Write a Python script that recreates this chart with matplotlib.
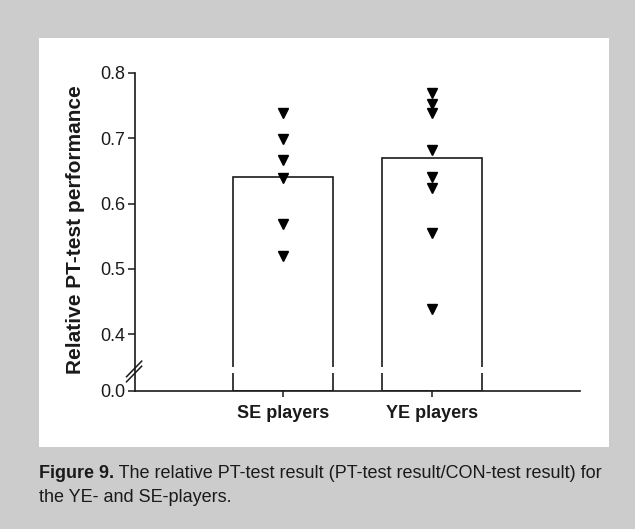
import numpy as np
import matplotlib
matplotlib.use("Agg")
import matplotlib.pyplot as plt
from matplotlib.patches import Rectangle
from matplotlib.lines import Line2D

plt.rcParams['font.family'] = ['Liberation Sans', 'DejaVu Sans']

# ---- data ----
categories = ["SE players", "YE players"]
bar_means = [0.64, 0.67]
se_values = [0.738, 0.698, 0.667, 0.639, 0.569, 0.520]
ye_values = [0.769, 0.752, 0.739, 0.682, 0.640, 0.624, 0.555, 0.439]
ytick_values = [0.0, 0.4, 0.5, 0.6, 0.7, 0.8]
caption_bold = "Figure 9."
caption_rest = " The relative PT-test result (PT-test result/CON-test result) for"
caption_line2 = "the YE- and SE-players."

# ---- styles ----
BG = "#cccccc"
INK = "#1a1a1a"
W, H, DPI = 635, 529, 100

fig = plt.figure(figsize=(W / DPI, H / DPI), dpi=DPI)
fig.patch.set_facecolor(BG)

# white panel
fig.add_artist(Rectangle((39 / W, 1 - 447 / H), 570 / W, 409 / H,
                         transform=fig.transFigure, facecolor="white",
                         edgecolor="none", zorder=0))

ax = fig.add_axes([135 / W, 1 - 390.7 / H, 445 / W, 318 / H])
ax.set_facecolor("none")

# broken y scale: values below 0.4 compressed
BRK = 0.4
Y0 = 0.3138


def fwd(v):
    v = np.asarray(v, dtype=float)
    return np.where(v >= BRK, v, Y0 + v * (BRK - Y0) / BRK)


def inv(u):
    u = np.asarray(u, dtype=float)
    return np.where(u >= BRK, u, (u - Y0) * BRK / (BRK - Y0))


ax.set_yscale("function", functions=(fwd, inv))
ax.set_ylim(0, 0.8)
ax.set_xlim(0, 3)

x = np.arange(1, len(categories) + 1)
ax.bar(x, bar_means, width=0.672, facecolor="white", edgecolor=INK,
       linewidth=1.2, zorder=1)

# gap in bar outlines at the break
ax.add_patch(Rectangle((0.2, 0.056), 0.75, 0.018, transform=ax.transAxes,
                       facecolor="white", edgecolor="none", zorder=2))

ax.plot(np.full(len(se_values), x[0]), se_values, linestyle="none",
        marker="v", color="black", markersize=6.8, zorder=4)
ax.plot(np.full(len(ye_values), x[1]), ye_values, linestyle="none",
        marker="v", color="black", markersize=6.8, zorder=4)

# spines
for s in ["top", "right"]:
    ax.spines[s].set_visible(False)
for s in ["left", "bottom"]:
    ax.spines[s].set_color(INK)
    ax.spines[s].set_linewidth(1.2)

ax.set_yticks(ytick_values)
ax.set_yticklabels([f"{v:.1f}" for v in ytick_values])
ax.set_xticks(x)
ax.set_xticklabels(categories, fontweight="bold", fontsize=13)
ax.tick_params(axis="y", direction="out", length=5, width=1.1, color=INK,
               labelsize=13, pad=2, labelcolor=INK)
ax.tick_params(axis="x", direction="out", length=4, width=1.1, color=INK,
               pad=6, labelcolor=INK)
ax.minorticks_off()

ax.set_ylabel("Relative PT-test performance", fontsize=15, fontweight="bold",
              color=INK)
ax.yaxis.set_label_coords(-0.112, 0.507)

# axis break marks
for dy in (0.0, 0.016):
    ax.add_line(Line2D([-0.019, 0.015], [0.028 + dy, 0.077 + dy],
                       transform=ax.transAxes, color=INK, linewidth=1.1,
                       clip_on=False, zorder=5))

# caption
CAP = 13
t1 = fig.text(39 / W, 1 - 477.7 / H, caption_bold, fontsize=CAP,
              fontweight="bold", color=INK, va="baseline", ha="left")
fig.canvas.draw()
ax.annotate(caption_rest, xy=(1, 1 - 477.7 / H), xycoords=(t1, "figure fraction"),
            fontsize=CAP, color=INK, va="baseline", ha="left",
            annotation_clip=False)
fig.text(39 / W, 1 - 502.5 / H, caption_line2, fontsize=CAP, color=INK,
         va="baseline", ha="left")

fig.savefig("out.png", dpi=DPI, facecolor=BG)
